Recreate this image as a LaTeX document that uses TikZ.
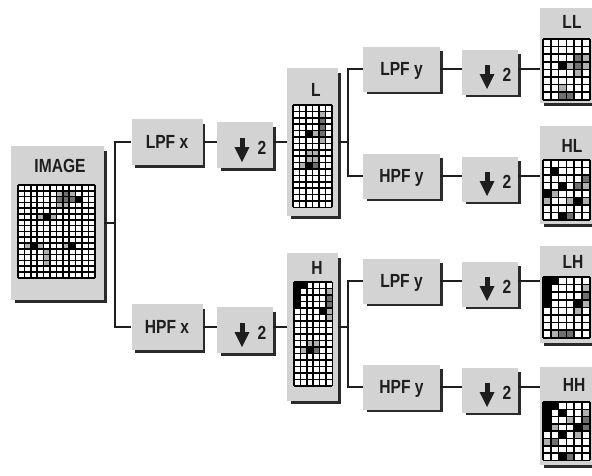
\documentclass[tikz,border=0pt]{standalone}
\usepackage{fontspec}
\setmainfont{Liberation Sans}[FakeStretch=0.82]

\definecolor{panelgray}{HTML}{D3D3D3}
\definecolor{shadowc}{HTML}{2A2A2A}
\definecolor{ink}{HTML}{1E1E1E}
\definecolor{cellmid}{HTML}{707070}
\definecolor{celllight}{HTML}{B0B0B0}

\newcommand\lblfont{\fontsize{19}{19}\selectfont\bfseries}

\tikzset{
  panel/.style={fill=panelgray, draw=none, inner sep=0pt},
  filt/.style={panel, font=\lblfont, text=ink, text depth=0pt},
  lbl/.style={font=\lblfont, text=ink, text depth=0pt, inner sep=0pt},
  wire/.style={draw=ink, line width=1.4pt},
  dropline/.style={draw=shadowc, line width=2.6pt, line join=miter},
  gridline/.style={draw=black, line width=1.5pt},
}

% dark drop line along the right and bottom edges of a panel
\newcommand\boxshade[1]{%
  \draw[dropline] ([xshift=1.3pt,yshift=-5pt]#1.north east)
    -- ([xshift=1.3pt,yshift=-1.3pt]#1.south east)
    -- ([xshift=4pt,yshift=-1.3pt]#1.south west);}

% bold down arrow of a downsampling panel
\newcommand\downmark[1]{%
  \fill[ink] ([xshift=-5.5pt,yshift=7pt]#1.center) rectangle ([xshift=-0.5pt,yshift=-4pt]#1.center);
  \fill[ink] ([xshift=-10.5pt,yshift=-2pt]#1.center) -- ([xshift=4.5pt,yshift=-2pt]#1.center)
    -- ([xshift=-3pt,yshift=-17pt]#1.center) -- cycle;}

% pixel grid: x0, y0, cols, rows, cell w, cell h, black cells, mid cells, light cells
\newcommand\cellgrid[9]{%
  \fill[white] (#1,#2) rectangle ({#1+#3*#5},{#2+#4*#6});
  \foreach \ci/\ri in {#7} \fill[black] ({#1+\ci*#5},{#2+\ri*#6}) rectangle +(#5,#6);
  \foreach \ci/\ri in {#8} \fill[cellmid] ({#1+\ci*#5},{#2+\ri*#6}) rectangle +(#5,#6);
  \foreach \ci/\ri in {#9} \fill[celllight] ({#1+\ci*#5},{#2+\ri*#6}) rectangle +(#5,#6);
  \foreach \i in {0,...,#3} \draw[gridline] ({#1+\i*#5},#2) -- ({#1+\i*#5},{#2+#4*#6});
  \foreach \j in {0,...,#4} \draw[gridline] (#1,{#2+\j*#6}) -- ({#1+#3*#5},{#2+\j*#6});}

\begin{document}
\begin{tikzpicture}[x=1pt,y=-1pt]
\useasboundingbox (0,0) rectangle (592,475);
\clip (0,0) rectangle (592,475);
\fill[white] (0,0) rectangle (592,475);

% ---------- panels ----------
\node[panel, minimum width=93, minimum height=154] (img) at (57.5,223) {};
\node[filt, minimum width=71, minimum height=46] (lpfx) at (167,142) {LPF x};
\node[panel, minimum width=56, minimum height=46] (dsx1) at (245,145) {};
\node[filt, minimum width=71, minimum height=46] (hpfx) at (167,327) {HPF x};
\node[panel, minimum width=56, minimum height=46] (dsx2) at (245,330) {};
\node[panel, minimum width=51, minimum height=148] (lbox) at (312.5,142) {};
\node[panel, minimum width=51, minimum height=148] (hbox) at (312.5,327) {};

\node[filt, minimum width=77, minimum height=45] (lpfy1) at (401.5,69) {LPF y};
\node[panel, minimum width=56, minimum height=45] (dsy1) at (490,72) {};
\node[filt, minimum width=77, minimum height=45] (hpfy2) at (401.5,176) {HPF y};
\node[panel, minimum width=56, minimum height=45] (dsy2) at (490,179) {};
\node[filt, minimum width=77, minimum height=45] (lpfy3) at (401.5,281) {LPF y};
\node[panel, minimum width=56, minimum height=45] (dsy3) at (490,284) {};
\node[filt, minimum width=77, minimum height=45] (hpfy4) at (401.5,387) {HPF y};
\node[panel, minimum width=56, minimum height=45] (dsy4) at (490,390) {};

\node[panel, minimum width=56, minimum height=95] (ll) at (568,55.5) {};
\node[panel, minimum width=56, minimum height=98] (hl) at (568,175) {};
\node[panel, minimum width=56, minimum height=97] (lh) at (568,294.5) {};
\node[panel, minimum width=56, minimum height=98] (hh) at (568,416) {};

\foreach \b in {img,lpfx,dsx1,hpfx,dsx2,lbox,hbox,lpfy1,dsy1,hpfy2,dsy2,lpfy3,dsy3,hpfy4,dsy4,ll,hl,lh,hh}
  {\boxshade{\b}}

% ---------- downsampling marks ----------
\foreach \b in {dsx1,dsx2,dsy1,dsy2,dsy3,dsy4}{%
  \downmark{\b}
  \node[lbl] (\b-two) at ([xshift=17pt,yshift=-3pt]\b.center) {2};}

% ---------- panel titles ----------
\node[lbl] (imgt) at (60,166) {IMAGE};
\node[lbl] (lt) at (316,90) {L};
\node[lbl] (ht) at (317,268) {H};
\node[lbl] (llt) at (572,22) {LL};
\node[lbl] (hlt) at (572,146) {HL};
\node[lbl] (lht) at (573,262) {LH};
\node[lbl] (hht) at (574,385) {HH};

% ---------- pixel grids ----------
\cellgrid{18}{185}{12}{16}{6.4}{5.8}
  {9/2,4/5,2/10,8/10}
  {7/1,7/2,8/2,6/2}
  {6/1,8/1,6/3,7/3,1/10,3/10,7/10,4/11,4/12,4/13,3/5,5/5}
\cellgrid{293}{105}{6}{16}{6.5}{6.4}
  {2/4,2/9}
  {4/2,4/3,4/4,3/9}
  {4/1,4/5,2/7,3/7,2/8,3/8,1/9,3/4}
\cellgrid{294}{282}{6}{16}{6.4}{6.5}
  {0/0,1/0,0/1,0/2,0/3,4/4,2/10}
  {3/10,5/2,5/3}
  {5/1,5/4,5/5,3/9,2/9,1/10}
\cellgrid{543}{39}{6}{8}{7.8}{7.6}
  {2/3}
  {4/2,4/3,2/7,3/7}
  {5/2,5/3,4/4,3/3,2/6}
\cellgrid{543}{160}{6}{8}{7.8}{7.5}
  {1/1,2/3,0/4,4/5,2/7}
  {5/2,4/3,3/7}
  {5/3,1/4,3/5,5/5,0/5}
\cellgrid{543}{277}{6}{8}{7.8}{7.6}
  {0/0,1/0,0/1,0/2,0/3,4/3}
  {2/7,3/7,5/2}
  {5/1,5/3,4/4,1/7}
\cellgrid{543}{402}{6}{8}{7.8}{7.3}
  {0/0,1/0,0/1,0/2,0/3,2/1,4/3,2/4,2/7}
  {1/5,3/7,5/2,5/3}
  {5/1,4/4,0/5,3/2,1/3}

% ---------- connectors ----------
\coordinate (j0) at (115,0);
\coordinate (j1) at (348,0);
\draw[wire] (img.east) -- (img.east -| j0);
\draw[wire] (lpfx.west) -- (lpfx.west -| j0) -- (hpfx.west -| j0) -- (hpfx.west);
\draw[wire] (lpfx.east) -- (dsx1.west |- lpfx.east);
\draw[wire] (dsx1.east |- lpfx.east) -- (lbox.west |- lpfx.east);
\draw[wire] (hpfx.east) -- (dsx2.west |- hpfx.east);
\draw[wire] (dsx2.east |- hpfx.east) -- (hbox.west |- hpfx.east);

\draw[wire] (lbox.east) -- (lbox.east -| j1);
\draw[wire] (lpfy1.west) -- (lpfy1.west -| j1) -- (hpfy2.west -| j1) -- (hpfy2.west);
\draw[wire] (hbox.east) -- (hbox.east -| j1);
\draw[wire] (lpfy3.west) -- (lpfy3.west -| j1) -- (hpfy4.west -| j1) -- (hpfy4.west);

\foreach \f/\d/\o in {lpfy1/dsy1/ll, hpfy2/dsy2/hl, lpfy3/dsy3/lh, hpfy4/dsy4/hh}{%
  \draw[wire] (\f.east) -- (\d.west |- \f.east);
  \draw[wire] (\d.east |- \f.east) -- (\o.west |- \f.east);}
\end{tikzpicture}
\end{document}
